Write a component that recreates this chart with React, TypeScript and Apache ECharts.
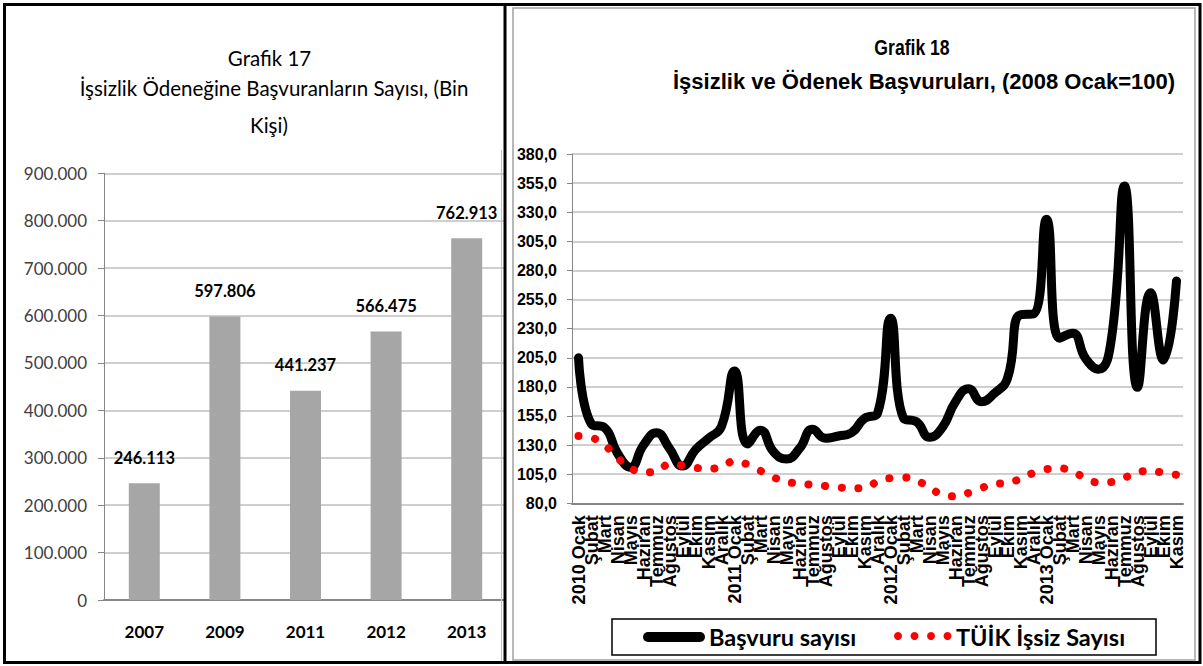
import React, { useEffect, useRef } from "react";
import * as echarts from "echarts";

// ---- Grafik 17 data ----
const barYears = ["2007", "2009", "2011", "2012", "2013"];
const barValues = [246113, 597806, 441237, 566475, 762913];

// ---- Grafik 18 data ----
const monthLabels = [
  "2010 Ocak", "Şubat", "Mart", "Nisan", "Mayıs", "Haziran", "Temmuz", "Ağustos", "Eylül", "Ekim", "Kasım", "Aralık",
  "2011 Ocak", "Şubat", "Mart", "Nisan", "Mayıs", "Haziran", "Temmuz", "Ağustos", "Eylül", "Ekim", "Kasım", "Aralık",
  "2012 Ocak", "Şubat", "Mart", "Nisan", "Mayıs", "Haziran", "Temmuz", "Ağustos", "Eylül", "Ekim", "Kasım", "Aralık",
  "2013 Ocak", "Şubat", "Mart", "Nisan", "Mayıs", "Haziran", "Temmuz", "Ağustos", "Eylül", "Ekim", "Kasım",
];
const basvuruSayisi = [
  205, 148, 145, 123, 111, 130, 140.7, 127, 112, 126, 135.8, 146,
  193.6, 131, 142.7, 124.3, 118, 127, 143.5, 135.8, 137.8, 140.6, 153, 157.3,
  238.9, 153, 150, 136.7, 145.3, 167.3, 178.4, 167.3, 174.5, 187.4, 242, 242.6,
  323.9, 221.7, 226, 204.5, 195.1, 221.7, 352.5, 179.6, 260.9, 203, 271,
];
const tuikIssiz = [
  137.8, 136.3, 130, 119, 110.3, 106.6, 107.4, 113.4, 112.5, 110.5, 109.7, 111.3,
  116.1, 113.4, 107.9, 102.3, 98.5, 97, 95.9, 94.8, 93.7, 92.9, 93.1, 98.6,
  101.6, 102.2, 99.5, 93.5, 87.5, 86, 88.9, 93.2, 96.5, 97.6, 101, 106.1,
  109.4, 110, 107.2, 101.8, 97.9, 98.2, 102, 106.7, 107.8, 106.2, 104.5,
];

const CAL = "Lato, 'Liberation Sans', sans-serif";
const ARIAL = "'Liberation Sans', Arial, sans-serif";

const thousands = (v: number) =>
  String(Math.round(v)).replace(/\B(?=(\d{3})+(?!\d))/g, ".");

export default function App() {
  const ref = useRef<HTMLDivElement>(null);
  useEffect(() => {
    if (!ref.current) return;
    const chart = echarts.init(ref.current, undefined, { renderer: "svg" });
    const gray = "#868686";
    const grid = "#bfbfbf";
    chart.setOption({
      animation: false,
      backgroundColor: "#ffffff",
      grid: [
        { left: 104, top: 173.3, width: 403, height: 426.7 },
        { left: 572, top: 154, width: 611, height: 349.3 },
      ],
      xAxis: [
        {
          gridIndex: 0,
          type: "category",
          data: barYears,
          axisLine: { lineStyle: { color: gray, width: 2 } },
          axisTick: { length: 7, lineStyle: { color: gray } },
          axisLabel: { margin: 23, color: "#000", fontFamily: CAL, fontWeight: "bold", fontSize: 17 },
        },
        {
          gridIndex: 1,
          type: "category",
          data: monthLabels,
          axisLine: { lineStyle: { color: gray, width: 2 } },
          axisTick: { length: 7, interval: 0, lineStyle: { color: gray } },
          axisLabel: { interval: 0, rotate: 90, margin: 12, color: "#000", fontFamily: ARIAL, fontWeight: "bold", fontSize: 18 },
        },
      ],
      yAxis: [
        {
          gridIndex: 0,
          type: "value",
          min: 0,
          max: 900000,
          interval: 100000,
          axisLine: { show: true, lineStyle: { color: gray } },
          axisTick: { show: true, length: 6, lineStyle: { color: gray } },
          splitLine: { lineStyle: { color: grid, width: 1.5 } },
          axisLabel: { margin: 17, color: "#404040", fontFamily: CAL, fontSize: 17, formatter: thousands },
        },
        {
          gridIndex: 1,
          type: "value",
          min: 80,
          max: 380,
          interval: 25,
          axisLine: { show: true, lineStyle: { color: gray } },
          axisTick: { show: true, length: 5, lineStyle: { color: gray } },
          splitLine: { lineStyle: { color: grid, width: 1.5 } },
          axisLabel: {
            margin: 15,
            color: "#000",
            fontFamily: ARIAL,
            fontWeight: "bold",
            fontSize: 16,
            formatter: (v: number) => v.toFixed(1).replace(".", ","),
          },
        },
      ],
      series: [
        {
          name: "İşsizlik Ödeneğine Başvuranların Sayısı",
          type: "bar",
          xAxisIndex: 0,
          yAxisIndex: 0,
          data: barValues,
          barWidth: 31,
          itemStyle: { color: "#a6a6a6" },
          label: {
            show: true,
            position: "top",
            distance: 17,
            color: "#000",
            fontFamily: CAL,
            fontWeight: "bold",
            fontSize: 16.5,
            formatter: (p: any) => thousands(p.value),
          },
        },
        {
          name: "Başvuru sayısı",
          type: "line",
          xAxisIndex: 1,
          yAxisIndex: 1,
          data: basvuruSayisi,
          smooth: 0.5,
          symbol: "none",
          lineStyle: { color: "#000", width: 9, cap: "round", join: "round" },
        },
        {
          name: "TÜİK İşsiz Sayısı",
          type: "line",
          xAxisIndex: 1,
          yAxisIndex: 1,
          data: tuikIssiz,
          smooth: 0.5,
          symbol: "none",
          lineStyle: { color: "#ff0000", width: 8, type: [0.1, 16.6], cap: "round" },
        },
      ],
      graphic: [
        // mask right of left plot
        { type: "rect", z: 90, shape: { x: 504, y: 0, width: 9, height: 666 }, style: { fill: "#fff" } },
        // left titles
        { type: "text", z: 100, x: 269.5, y: 58, style: { text: "Grafik 17", font: `20.5px ${CAL}`, fill: "#000", textAlign: "center", textVerticalAlign: "middle" } },
        { type: "text", z: 100, x: 274, y: 88, style: { text: "İşsizlik Ödeneğine Başvuranların Sayısı, (Bin", font: `20.5px ${CAL}`, fill: "#000", textAlign: "center", textVerticalAlign: "middle" } },
        { type: "text", z: 100, x: 269, y: 125, style: { text: "Kişi)", font: `20.5px ${CAL}`, fill: "#000", textAlign: "center", textVerticalAlign: "middle" } },
        // right titles
        { type: "text", z: 100, x: 912, y: 47, scaleX: 0.8, style: { text: "Grafik 18", font: `bold 22px ${ARIAL}`, fill: "#000", textAlign: "center", textVerticalAlign: "middle" } },
        { type: "text", z: 100, x: 924, y: 81, style: { text: "İşsizlik ve Ödenek Başvuruları, (2008 Ocak=100)", font: `bold 22px ${ARIAL}`, fill: "#000", textAlign: "center", textVerticalAlign: "middle" } },
        // legend
        { type: "rect", z: 100, shape: { x: 612, y: 619, width: 544, height: 36 }, style: { fill: "#fff", stroke: "#000", lineWidth: 1.5 } },
        { type: "line", z: 101, shape: { x1: 648, y1: 637, x2: 700, y2: 637 }, style: { stroke: "#000", lineWidth: 10, lineCap: "round" } },
        { type: "text", z: 101, x: 709, y: 637, style: { text: "Başvuru sayısı", font: `bold 23.5px ${CAL}`, fill: "#000", textAlign: "left", textVerticalAlign: "middle" } },
        { type: "circle", z: 101, shape: { cx: 898, cy: 636, r: 4 }, style: { fill: "#ff0000" } },
        { type: "circle", z: 101, shape: { cx: 914.5, cy: 636, r: 4 }, style: { fill: "#ff0000" } },
        { type: "circle", z: 101, shape: { cx: 931, cy: 636, r: 4 }, style: { fill: "#ff0000" } },
        { type: "circle", z: 101, shape: { cx: 947.5, cy: 636, r: 4 }, style: { fill: "#ff0000" } },
        { type: "text", z: 101, x: 956, y: 637, style: { text: "TÜİK İşsiz Sayısı", font: `bold 23.5px ${CAL}`, fill: "#000", textAlign: "left", textVerticalAlign: "middle" } },
        // borders
        { type: "rect", z: 110, shape: { x: 513, y: 8, width: 682, height: 652 }, style: { fill: "none", stroke: "#a0a0a0", lineWidth: 1.5 } },
        { type: "rect", z: 111, shape: { x: 4.5, y: 4.5, width: 1195.5, height: 658 }, style: { fill: "none", stroke: "#000", lineWidth: 3 } },
        { type: "line", z: 111, shape: { x1: 505, y1: 4, x2: 505, y2: 663 }, style: { stroke: "#000", lineWidth: 3 } },
        { type: "line", z: 109, shape: { x1: 501.5, y1: 150, x2: 501.5, y2: 663 }, style: { stroke: "#bfbfbf", lineWidth: 1 } },
      ],
    });
    return () => chart.dispose();
  }, []);
  return <div ref={ref} style={{ position: "absolute", left: 0, top: 0, width: 1203, height: 666 }} />;
}
